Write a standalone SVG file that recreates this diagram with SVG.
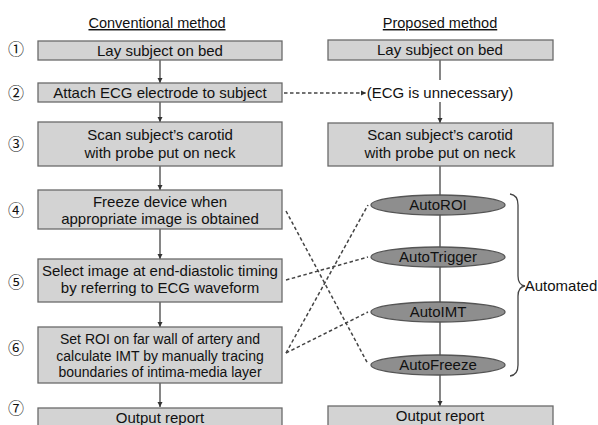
<svg xmlns="http://www.w3.org/2000/svg" width="598" height="425" viewBox="0 0 598 425">
<style>
text{font-family:"Liberation Sans",Arial,sans-serif;fill:#111;text-anchor:middle}
.t{font-size:15px}
.s{font-size:14px}
.h{font-size:14.5px;text-decoration:underline}
.n{font-family:"Noto Sans CJK JP","DejaVu Sans",sans-serif;font-size:16px}
.box{fill:#d3d3d3;stroke:#6a6a6a;stroke-width:1.3}
.ell{fill:#8e8e8e;stroke:#555;stroke-width:1.3}
.ln{stroke:#444;stroke-width:1.3;fill:none}
.ds{stroke:#444;stroke-width:1.5;fill:none;stroke-dasharray:3.5,2.5}
</style>
<defs>
<marker id="ah" markerWidth="6" markerHeight="6" refX="5" refY="3" orient="auto" markerUnits="userSpaceOnUse">
<path d="M0,0.5 L5,3 L0,5.5 Z" fill="#333"/>
</marker>
</defs>
<rect width="598" height="425" fill="#fff"/>
<g id="headers">
<text class="h" x="157" y="28">Conventional method</text>
<text class="h" x="440" y="28">Proposed method</text>
</g>
<g id="numbers">
<text class="n" x="16" y="55">①</text>
<text class="n" x="16" y="99">②</text>
<text class="n" x="16" y="150">③</text>
<text class="n" x="16" y="216">④</text>
<text class="n" x="16" y="288">⑤</text>
<text class="n" x="16" y="354">⑥</text>
<text class="n" x="16" y="414">⑦</text>
</g>
<g id="connectors">
<line class="ln" x1="160" y1="60" x2="160" y2="83" marker-end="url(#ah)"/>
<line class="ln" x1="160" y1="102" x2="160" y2="122" marker-end="url(#ah)"/>
<line class="ln" x1="160" y1="166" x2="160" y2="190" marker-end="url(#ah)"/>
<line class="ln" x1="160" y1="229" x2="160" y2="259" marker-end="url(#ah)"/>
<line class="ln" x1="160" y1="302" x2="160" y2="327" marker-end="url(#ah)"/>
<line class="ln" x1="160" y1="383" x2="160" y2="407" marker-end="url(#ah)"/>
<line class="ln" x1="440" y1="60" x2="440" y2="80"/>
<line class="ln" x1="440" y1="102" x2="440" y2="123" marker-end="url(#ah)"/>
<line class="ln" x1="440" y1="166" x2="440" y2="406" marker-end="url(#ah)"/>
<line class="ds" x1="284" y1="93" x2="366" y2="93" marker-end="url(#ah)"/>
<line class="ds" x1="286" y1="211" x2="368" y2="364"/>
<line class="ds" x1="286" y1="280" x2="368" y2="257"/>
<line class="ds" x1="286" y1="353" x2="368" y2="205"/>
<line class="ds" x1="286" y1="353" x2="368" y2="312"/>
</g>
<g id="c1"><rect class="box" x="38" y="41" width="244" height="19"/><text class="t" x="160" y="56">Lay subject on bed</text></g>
<g id="c2"><rect class="box" x="38" y="83" width="244" height="19"/><text class="t" x="160" y="98">Attach ECG electrode to subject</text></g>
<g id="c3"><rect class="box" x="38" y="122" width="244" height="44"/><text class="t" x="160" y="140">Scan subject’s carotid</text><text class="t" x="160" y="158">with probe put on neck</text></g>
<g id="c4"><rect class="box" x="38" y="190" width="244" height="39"/><text class="t" x="160" y="207">Freeze device when</text><text class="t" x="160" y="224">appropriate image is obtained</text></g>
<g id="c5"><rect class="box" x="38" y="259" width="244" height="43"/><text class="t" x="160" y="276">Select image at end-diastolic timing</text><text class="t" x="160" y="293">by referring to ECG waveform</text></g>
<g id="c6"><rect class="box" x="38" y="327" width="244" height="56"/><text class="s" x="160" y="344">Set ROI on far wall of artery and</text><text class="s" x="160" y="360.5">calculate IMT by manually tracing</text><text class="s" x="160" y="377">boundaries of intima-media layer</text></g>
<g id="c7"><rect class="box" x="38" y="408" width="244" height="22"/><text class="t" x="160" y="423">Output report</text></g>
<g id="p1"><rect class="box" x="328" y="40" width="225" height="20"/><text class="t" x="440" y="55">Lay subject on bed</text></g>
<g id="p2"><text class="t" x="440" y="98">(ECG is unnecessary)</text></g>
<g id="p3"><rect class="box" x="328" y="123" width="225" height="43"/><text class="t" x="440" y="140">Scan subject’s carotid</text><text class="t" x="440" y="158">with probe put on neck</text></g>
<g id="p4"><ellipse class="ell" cx="438" cy="205" rx="67" ry="10"/><text class="t" x="438" y="210">AutoROI</text></g>
<g id="p5"><ellipse class="ell" cx="438" cy="257" rx="67" ry="10"/><text class="t" x="438" y="262">AutoTrigger</text></g>
<g id="p6"><ellipse class="ell" cx="438" cy="312" rx="67" ry="10"/><text class="t" x="438" y="317">AutoIMT</text></g>
<g id="p7"><ellipse class="ell" cx="438" cy="365" rx="67" ry="10"/><text class="t" x="438" y="370">AutoFreeze</text></g>
<g id="p8"><rect class="box" x="328" y="406" width="225" height="24"/><text class="t" x="440" y="421">Output report</text></g>
<g id="brace">
<path class="ln" d="M510,194 Q518,195 518,205 L518,276 Q518,285 525,286 Q518,287 518,296 L518,365 Q518,375 510,376"/>
<text class="t" x="561" y="291">Automated</text>
</g>
</svg>
